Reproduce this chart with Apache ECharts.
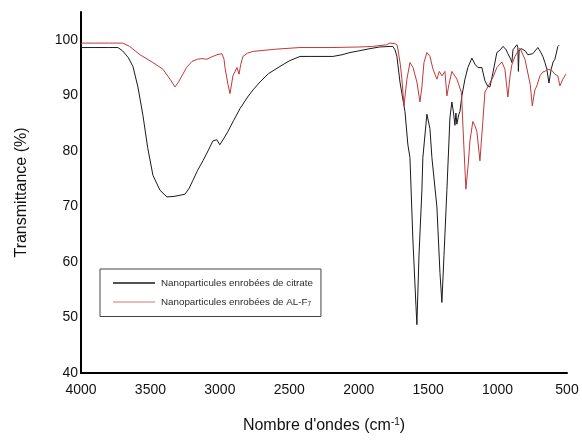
<!DOCTYPE html>
<html><head><meta charset="utf-8">
<script src="https://cdn.jsdelivr.net/npm/echarts@6/dist/echarts.min.js"></script>
<style>html,body{margin:0;padding:0;background:#fff}#c{width:582px;height:440px}</style>
</head><body><div id="c"></div>
<script>
// Series 1: Nanoparticules enrobées de citrate
const citrateWave = [4000,3900,3800,3734,3700,3660,3626,3590,3554,3520,3482,3431,3381,3330,3287,3251,3220,3194,3160,3122,3085,3050,3022,3000,2970,2942,2900,2855,2800,2760,2711,2650,2567,2500,2423,2350,2279,2186,2120,2063,2000,1919,1850,1775,1754,1739,1725,1703,1667,1646,1631,1610,1588,1581,1566,1545,1538,1509,1487,1473,1437,1415,1401,1386,1365,1343,1329,1318,1307,1300,1293,1280,1271,1257,1235,1214,1185,1163,1142,1113,1091,1070,1055,1034,1005,980,962,940,926,905,897,889,861,854,850,845,830,818,800,782,746,710,690,674,659,645,630,615,600,587,566,558];
const citrateT = [98.6,98.6,98.6,98.6,98.0,96.8,95.2,91.5,86.4,80.6,75.6,72.9,71.7,71.8,72.0,72.2,73.3,74.7,76.5,78.2,80.0,81.8,82.0,81.1,82.3,83.5,85.5,87.6,89.7,91.0,92.4,93.9,95.2,96.2,97.0,97.0,97.0,97.0,97.3,97.7,98.0,98.4,98.7,98.8,98.8,98.2,97.0,92.4,87.1,81.1,78.8,64.1,52.2,48.7,61.1,72.9,78.8,86.6,84.0,78.8,69.9,58.1,52.7,61.1,72.9,86.0,88.8,87.0,84.6,86.8,84.8,86.5,87.1,89.9,92.9,95.0,96.7,95.6,95.0,95.0,92.6,91.6,91.5,94.0,97.7,98.2,98.8,98.3,97.5,96.5,95.9,98.2,99.1,98.6,94.3,98.0,98.4,98.7,98.0,97.3,97.5,98.6,97.8,97.0,95.9,94.7,92.2,94.6,96.0,96.5,98.8,99.0];
// Series 2: Nanoparticules enrobées de AL-F7
const alfWave = [4000,3800,3700,3650,3575,3482,3410,3359,3323,3300,3273,3240,3201,3160,3129,3093,3060,3021,2985,2970,2963,2942,2927,2906,2877,2862,2850,2834,2800,2762,2600,2423,2200,2000,1900,1800,1775,1740,1725,1717,1700,1689,1674,1653,1631,1609,1581,1559,1545,1530,1509,1487,1465,1437,1420,1400,1379,1365,1350,1329,1293,1260,1245,1228,1210,1199,1178,1163,1149,1127,1106,1091,1077,1055,1034,1005,969,947,926,910,897,875,839,803,789,765,750,731,717,695,674,659,638,610,587,566,551,544,530,508];
const alfT = [99.4,99.4,99.4,98.8,97.3,95.9,94.7,92.9,91.5,92.3,93.5,95.0,96.1,96.5,96.6,96.5,96.9,97.3,97.5,96.5,95.0,92.0,90.3,93.5,95.0,93.8,95.5,97.0,97.6,97.9,98.3,98.6,98.6,98.7,98.8,99.1,99.4,99.3,99.1,98.2,95.5,92.9,88.1,92.9,95.9,95.0,92.4,88.8,91.5,95.9,97.7,97.0,94.7,92.9,94.3,93.5,94.3,89.9,92.0,94.3,92.9,90.5,82.0,73.1,78.0,81.8,85.3,84.5,83.5,78.2,85.3,90.6,90.9,92.2,93.2,95.0,96.0,94.7,89.7,93.5,95.5,97.0,98.5,96.5,96.3,92.0,88.1,91.0,91.7,93.5,94.2,94.3,94.7,94.5,93.8,93.5,91.7,91.5,92.9,93.8];
const xTicks = [4000,3500,3000,2500,2000,1500,1000,500];
const yTicks = [40,50,60,70,80,90,100];
const seriesNames = ['Nanoparticules enrobées de citrate', 'Nanoparticules enrobées de AL-F{sub|7}'];

const pairs = (w, t) => w.map((x, i) => [x, t[i]]);
const chart = echarts.init(document.getElementById('c'), null, {renderer: 'canvas'});
const font = 'Liberation Sans, Arial, sans-serif';
chart.setOption({
  animation: false,
  backgroundColor: '#fff',
  grid: {left: 81, right: 15, top: 12, bottom: 61},
  xAxis: {
    type: 'value', inverse: true, min: 500, max: 4000, interval: 500,
    axisLine: {show: true, onZero: false, lineStyle: {color: '#000', width: 2}},
    axisTick: {show: false}, splitLine: {show: false},
    axisLabel: {color: '#111', fontSize: 14, fontFamily: font, margin: 10,
      formatter: v => xTicks.includes(v) ? String(v) : ''},
    name: "Nombre d'ondes (cm{sup|-1})", nameLocation: 'middle', nameGap: 44,
    nameTextStyle: {color: '#111', fontSize: 16, fontFamily: font, lineHeight: 18,
      rich: {sup: {fontSize: 10, fontFamily: font, color: '#111', verticalAlign: 'top', lineHeight: 18, padding: [0, 0, 8, 0]}}}
  },
  yAxis: {
    type: 'value', min: 40, max: 105, interval: 10,
    axisLine: {show: true, onZero: false, lineStyle: {color: '#000', width: 2}},
    axisTick: {show: false}, splitLine: {show: false},
    axisLabel: {color: '#111', fontSize: 14, fontFamily: font, margin: 3,
      formatter: v => yTicks.includes(v) ? String(v) : ''},
    name: 'Transmittance (%)', nameLocation: 'middle', nameGap: 51,
    nameTextStyle: {color: '#111', fontSize: 16, fontFamily: font}
  },
  legend: {
    orient: 'vertical', left: 100, top: 269, padding: [9, 8, 9, 13],
    itemWidth: 42, itemHeight: 1.5, itemGap: 9, icon: 'rect',
    borderColor: '#444', borderWidth: 1,
    textStyle: {fontSize: 9.8, fontFamily: font, color: '#2a2a2a', padding: [0, 0, 0, 1],
      rich: {sub: {fontSize: 6.5, fontFamily: font, color: '#2a2a2a', verticalAlign: 'bottom', padding: [4, 0, 0, 0]}}},
    data: [{name: seriesNames[0]}, {name: seriesNames[1]}]
  },
  series: [
    {name: seriesNames[0], type: 'line', data: pairs(citrateWave, citrateT), symbol: 'none',
     lineStyle: {color: '#1a1a1a', width: 1}, itemStyle: {color: '#1a1a1a'}},
    {name: seriesNames[1], type: 'line', data: pairs(alfWave, alfT), symbol: 'none',
     lineStyle: {color: '#c0393b', width: 1}, itemStyle: {color: '#e0a3a3'}}
  ]
});
</script></body></html>
